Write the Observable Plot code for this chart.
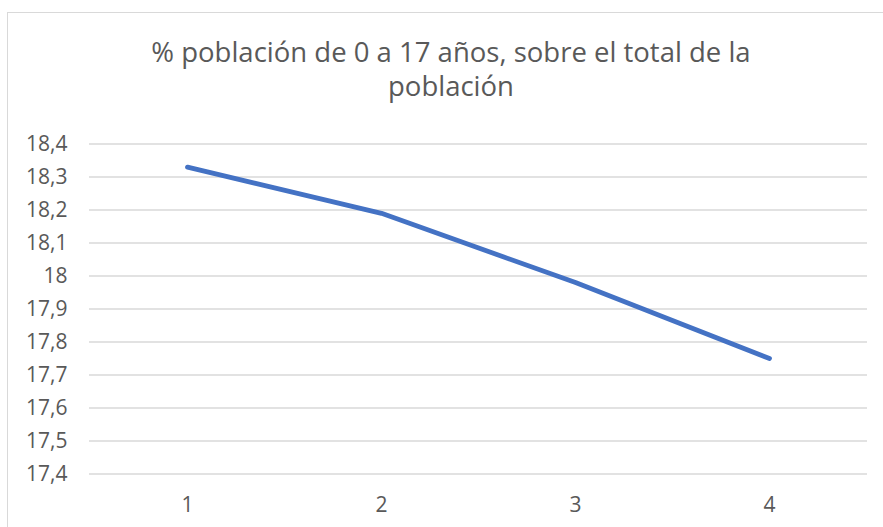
<!DOCTYPE html>
<html>
<head>
<meta charset="utf-8">
<script src="https://cdn.jsdelivr.net/npm/d3@7"></script>
<script src="https://cdn.jsdelivr.net/npm/@observablehq/plot@0.6"></script>
<style>
  html, body { margin: 0; padding: 0; background: #fff; }
  #wrap { position: relative; width: 883px; height: 527px; overflow: hidden; font-family: "Open Sans", sans-serif; }
  #frame { position: absolute; left: 7px; top: 12px; width: 880px; height: 530px; border: 1px solid #d9d9d9; box-sizing: border-box; }
  #title { position: absolute; left: 0; width: 902px; top: 35px; text-align: center; color: #595959; font-size: 27.5px; line-height: 34px; white-space: nowrap; }
  #chart { position: absolute; left: 0; top: 0; }
</style>
</head>
<body>
<div id="wrap">
  <div id="frame"></div>
  <div id="chart"></div>
  <div id="title">% población de 0 a 17 años, sobre el total de la<br>población</div>
</div>
<script>
const categories = [1, 2, 3, 4];
const values = [18.33, 18.19, 17.98, 17.75];
const yTicks = [17.4, 17.5, 17.6, 17.7, 17.8, 17.9, 18, 18.1, 18.2, 18.3, 18.4];

const data = categories.map((c, i) => ({x: c, y: values[i]}));

const chart = Plot.plot({
  width: 883,
  height: 527,
  marginLeft: 89,
  marginRight: 16,
  marginTop: 143.5,
  marginBottom: 53.5,
  style: {fontFamily: "'Open Sans', sans-serif", fontSize: "21px", color: "#595959", background: "transparent"},
  x: {type: "point", domain: categories, padding: 0.5, label: null},
  y: {domain: [17.4, 18.4], label: null},
  marks: [
    Plot.ruleY(yTicks, {stroke: "#d9d9d9", strokeWidth: 1.3}),
    Plot.axisY(yTicks, {tickSize: 0, tickPadding: 22, tickFormat: d => String(d).replace(".", ","), fill: "#595959", fontSize: 21, label: null}),
    Plot.axisX(categories, {tickSize: 0, tickPadding: 23, fill: "#595959", fontSize: 21, label: null}),
    Plot.line(data, {x: "x", y: "y", stroke: "#4472C4", strokeWidth: 4.8, strokeLinecap: "round", strokeLinejoin: "round"})
  ]
});
document.getElementById("chart").appendChild(chart);
</script>
</body>
</html>
